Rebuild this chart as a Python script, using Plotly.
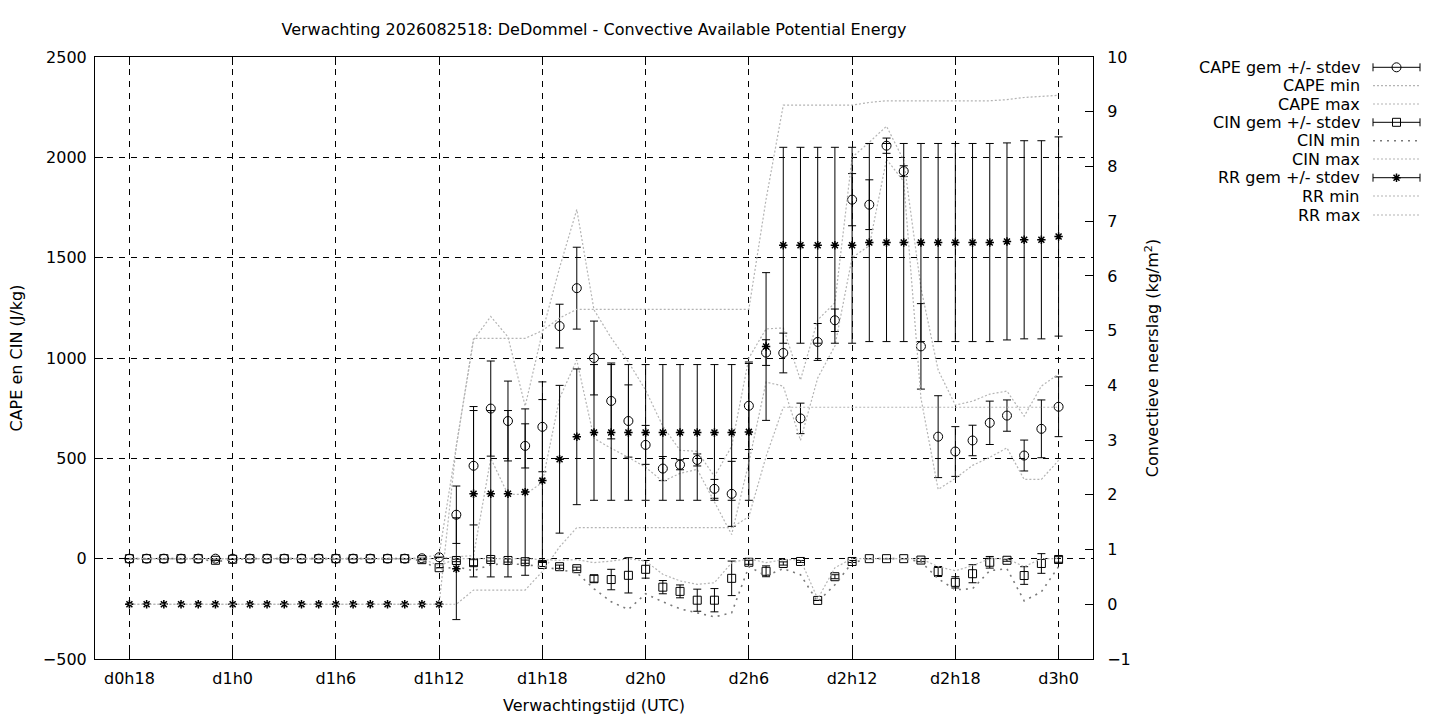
import plotly.graph_objects as go

# ---------------- data (hours since d0h0) ----------------
hours = [18, 19, 20, 21, 22, 23, 24, 25, 26, 27, 28, 29, 30, 31, 32, 33, 34, 35,
         36, 37, 38, 39, 40, 41, 42, 43, 44, 45, 46, 47, 48, 49, 50, 51, 52, 53, 54,
         55, 56, 57, 58, 59, 60, 61, 62, 63, 64, 65, 66, 67, 68, 69, 70, 71, 72]

tick_vals = [18, 24, 30, 36, 42, 48, 54, 60, 66, 72]
tick_text = ["d0h18", "d1h0", "d1h6", "d1h12", "d1h18", "d2h0", "d2h6", "d2h12", "d2h18", "d3h0"]

cape_mean = [0, 0, 0, 0, 0, 0, 0, 0, 0, 0, 0, 0, 0, 0, 0, 0, 0, 2,
             7, 219, 463, 748, 686, 562, 657, 1159, 1348, 1000, 786, 686, 567, 449, 468, 492, 348, 323, 762,
             1027, 1025, 699, 1080, 1188, 1789, 1764, 2058, 1931, 1058, 608, 534, 589, 677, 713, 514, 647, 757]
cape_sd = [0, 0, 0, 0, 0, 0, 0, 0, 0, 0, 0, 0, 0, 0, 0, 0, 0, 0,
           0, 143, 295, 237, 199, 110, 224, 109, 204, 184, 189, 180, 97, 60, 25, 30, 47, 162, 218,
           64, 99, 76, 92, 56, 130, 124, 38, 27, 213, 204, 124, 76, 108, 78, 77, 144, 149]
cape_min = [0, 0, 0, 0, 0, 0, 0, 0, 0, 0, 0, 0, 0, 0, 0, 0, 0, 0,
            0, 10, 15, 500, 320, 320, 380, 800, 990, 600, 550, 505, 455, 385, 425, 445, 285, 120, 480,
            880, 860, 590, 900, 1060, 1500, 1560, 1990, 1880, 800, 345, 400, 465, 505, 552, 395, 395, 490]
cape_max = [0, 0, 0, 0, 0, 0, 0, 0, 0, 0, 0, 0, 0, 0, 0, 0, 0, 5,
            20, 560, 1090, 1207, 1105, 760, 1130, 1450, 1740, 1240, 1100, 980, 840, 660, 540, 535, 410, 560, 1000,
            1145, 1150, 890, 1190, 1275, 2000, 2075, 2155, 1985, 1350, 940, 765, 785, 820, 835, 710, 860, 920]

cin_mean = [0, 0, 0, 0, 0, -8, -3, 0, 0, 0, 0, 0, 0, 0, 0, 0, 0, -5,
            -45, -9, -20, -4, -9, -15, -29, -40, -50, -100, -104, -83, -53, -142, -163, -207, -207, -98, -18,
            -63, -24, -14, -208, -90, -14, 0, 0, 0, -7, -64, -118, -75, -18, -8, -84, -24, -4]
cin_sd = [0, 0, 0, 0, 0, 0, 0, 0, 0, 0, 0, 0, 0, 0, 0, 0, 0, 0,
          0, 6, 15, 8, 8, 8, 10, 8, 8, 17, 51, 88, 44, 33, 32, 55, 58, 86, 10,
          27, 8, 5, 0, 10, 5, 0, 0, 0, 8, 25, 28, 45, 29, 5, 44, 49, 14]
cin_min = [0, 0, 0, 0, 0, -15, -5, 0, 0, 0, 0, 0, 0, 0, 0, 0, 0, -10,
           -55, -40, -60, -30, -25, -30, -40, -55, -70, -150, -215, -253, -175, -215, -250, -270, -290, -270, -40,
           -85, -50, -80, -215, -130, -20, 0, 0, 0, -15, -100, -155, -150, -60, -50, -210, -165, -40]
cin_max = [0, 0, 0, 0, 0, 0, 0, 0, 0, 0, 0, 0, 0, 0, 0, 0, 0, 0,
           -35, 0, 0, 0, 0, 0, -5, -8, -5, -20, -12, 0, -12, -78, -111, -128, -120, -20, 0,
           -20, -5, -5, -200, -45, 0, 0, 0, 0, 0, -40, -60, -35, 0, 0, -40, 0, 0]

rr_mean = [0, 0, 0, 0, 0, 0, 0, 0, 0, 0, 0, 0, 0, 0, 0, 0, 0, 0,
           0, 0.65, 2.02, 2.02, 2.02, 2.05, 2.26, 2.65, 3.06, 3.14, 3.14, 3.14, 3.14, 3.14, 3.14, 3.14, 3.14, 3.14, 3.15,
           4.71, 6.56, 6.56, 6.56, 6.56, 6.56, 6.61, 6.61, 6.61, 6.61, 6.61, 6.61, 6.61, 6.61, 6.63, 6.66, 6.66, 6.72]
rr_sd = [0, 0, 0, 0, 0, 0, 0, 0, 0, 0, 0, 0, 0, 0, 0, 0, 0, 0,
         0, 0.93, 1.52, 1.52, 1.52, 1.52, 1.48, 1.35, 1.24, 1.24, 1.24, 1.24, 1.24, 1.24, 1.24, 1.24, 1.24, 1.24, 1.25,
         1.35, 1.79, 1.79, 1.79, 1.79, 1.79, 1.81, 1.81, 1.81, 1.81, 1.81, 1.81, 1.81, 1.81, 1.80, 1.81, 1.81, 1.82]
rr_min = [0, 0, 0, 0, 0, 0, 0, 0, 0, 0, 0, 0, 0, 0, 0, 0, 0, 0,
          0, 0, 0.26, 0.26, 0.26, 0.26, 0.6, 1.05, 1.4, 1.4, 1.4, 1.4, 1.4, 1.4, 1.4, 1.4, 1.4, 1.4, 1.6,
          2.7, 3.6, 3.6, 3.6, 3.6, 3.6, 3.6, 3.6, 3.6, 3.6, 3.6, 3.6, 3.6, 3.6, 3.6, 3.6, 3.6, 3.6]
rr_max = [0, 0, 0, 0, 0, 0, 0, 0, 0, 0, 0, 0, 0, 0, 0, 0, 0, 0,
          0, 2.9, 4.86, 4.86, 4.86, 4.86, 5.0, 5.23, 5.39, 5.39, 5.39, 5.39, 5.39, 5.39, 5.39, 5.39, 5.39, 5.39, 5.39,
          7.4, 9.12, 9.12, 9.12, 9.12, 9.12, 9.17, 9.2, 9.2, 9.2, 9.2, 9.2, 9.2, 9.2, 9.22, 9.26, 9.28, 9.3]

legend_labels = ["CAPE gem +/- stdev", "CAPE min", "CAPE max",
                 "CIN gem +/- stdev", "CIN min", "CIN max",
                 "RR gem +/- stdev", "RR min", "RR max"]

title_text = "Verwachting 2026082518: DeDommel - Convective Available Potential Energy"

# ---------------- styles ----------------
FONT = "DejaVu Sans"
FS = 16
LIGHT = dict(color="#b4b4b4", width=1.2, dash="2px,2px")
DARK = dict(color="#7a7a7a", width=1.6, dash="2px,5px")
ERR = dict(type="data", visible=True, color="black", thickness=1, width=4)

# figure geometry (pixels)
W, H = 1440, 720
ML, MR, MT, MB = 95, 10, 57, 61
PW = W - ML - MR
PLOT_R = 1093
XD = (PLOT_R - ML) / PW
LEG_X0, LEG_X1 = 1100, 1430

fig = go.Figure()

def mean_trace(y, sd, symbol, size, lw, axis):
    return go.Scatter(x=hours, y=y, mode="markers", yaxis=axis, xaxis="x",
                      marker=dict(symbol=symbol, size=size, color="black",
                                  line=dict(color="black", width=lw)),
                      error_y=dict(ERR, array=sd), showlegend=False, hoverinfo="skip")

def line_trace(y, style, axis):
    return go.Scatter(x=hours, y=y, mode="lines", yaxis=axis, xaxis="x",
                      line=style, showlegend=False, hoverinfo="skip")

fig.add_trace(mean_trace(cape_mean, cape_sd, "circle-open", 9, 1, "y"))
fig.add_trace(line_trace(cape_min, LIGHT, "y"))
fig.add_trace(line_trace(cape_max, LIGHT, "y"))
fig.add_trace(mean_trace(cin_mean, cin_sd, "square-open", 8, 1, "y"))
fig.add_trace(line_trace(cin_min, DARK, "y"))
fig.add_trace(line_trace(cin_max, LIGHT, "y"))
fig.add_trace(mean_trace(rr_mean, rr_sd, "asterisk-open", 7, 1.5, "y2"))
fig.add_trace(line_trace(rr_min, LIGHT, "y2"))
fig.add_trace(line_trace(rr_max, LIGHT, "y2"))

# ---------------- key (legend) drawn in its own hidden axis, pixel units ----------------
leg_rows = [67.3, 85.7, 104.0, 122.3, 140.7, 159.0, 177.7, 196.0, 215.0]
leg_kind = [("mean", "circle-open", 9, 1), ("line", LIGHT), ("line", LIGHT),
            ("mean", "square-open", 8, 1), ("line", DARK), ("line", LIGHT),
            ("mean", "asterisk-open", 7, 1.5), ("line", LIGHT), ("line", LIGHT)]
TXT_R, S0, S1 = 1362, 1373, 1420
annotations = []
for lab, row, kind in zip(legend_labels, leg_rows, leg_kind):
    annotations.append(dict(x=TXT_R, y=row, xref="x3", yref="y3", text=lab,
                            xanchor="right", yanchor="middle", showarrow=False,
                            font=dict(family=FONT, size=FS, color="black")))
    if kind[0] == "mean":
        fig.add_trace(go.Scatter(x=[(S0 + S1) / 2], y=[row], xaxis="x3", yaxis="y3",
                                 mode="markers", showlegend=False, hoverinfo="skip",
                                 marker=dict(symbol=kind[1], size=kind[2], color="black",
                                             line=dict(color="black", width=kind[3])),
                                 error_x=dict(ERR, array=[(S1 - S0) / 2])))
    else:
        fig.add_trace(go.Scatter(x=[S0, S1], y=[row, row], xaxis="x3", yaxis="y3",
                                 mode="lines", line=kind[1], showlegend=False, hoverinfo="skip"))

GRID = dict(showgrid=True, gridcolor="black", gridwidth=1, griddash="6px,6px")
TICKF = dict(family=FONT, size=FS, color="black")

fig.update_layout(
    width=W, height=H,
    margin=dict(l=ML, r=MR, t=MT, b=MB, pad=0, autoexpand=False),
    paper_bgcolor="white", plot_bgcolor="white",
    font=dict(family=FONT, size=FS, color="black"),
    showlegend=False,
    title=dict(text=title_text, x=((ML + PLOT_R) / 2) / W, xref="container", xanchor="center",
               y=1 - 29 / H, yref="container", yanchor="middle", automargin=False,
               font=dict(family=FONT, size=FS, color="black")),
    xaxis=dict(domain=[0, XD], range=[16, 74], tickvals=tick_vals, ticktext=tick_text,
               ticks="inside", ticklen=8, tickcolor="black", showline=True, linecolor="black",
               linewidth=1, mirror="ticks", zeroline=False, tickfont=TICKF, anchor="y",
               ticklabelstandoff=5, automargin=False,
               title=dict(text="Verwachtingstijd (UTC)", standoff=12, font=TICKF), **GRID),
    yaxis=dict(domain=[0, 1], range=[-500, 2500], dtick=500, ticks="inside", ticklen=8,
               tickcolor="black", showline=True, linecolor="black", linewidth=1,
               zeroline=False, tickfont=TICKF, anchor="x", ticklabelstandoff=4, automargin=False,
               title=dict(text="CAPE en CIN (J/kg)", standoff=16, font=TICKF), **GRID),
    yaxis2=dict(overlaying="y", side="right", anchor="x", range=[-1, 10], dtick=1,
                ticks="inside", ticklen=8, tickcolor="black", showline=True, linecolor="black",
                linewidth=1, showgrid=False, zeroline=False, tickfont=TICKF, ticklabelstandoff=10,
                automargin=False,
                title=dict(text="Convectieve neerslag (kg/m<sup>2</sup>)", standoff=17, font=TICKF)),
    xaxis3=dict(domain=[(LEG_X0 - ML) / PW, 1], range=[LEG_X0, LEG_X1], visible=False,
                anchor="y3", fixedrange=True, automargin=False),
    yaxis3=dict(domain=[0, 1], range=[H - MB, MT], visible=False, anchor="x3", fixedrange=True,
                automargin=False),
    annotations=annotations,
)

fig.write_html("out.html", config={"displayModeBar": False},
               post_script="document.body.style.margin='0';")
